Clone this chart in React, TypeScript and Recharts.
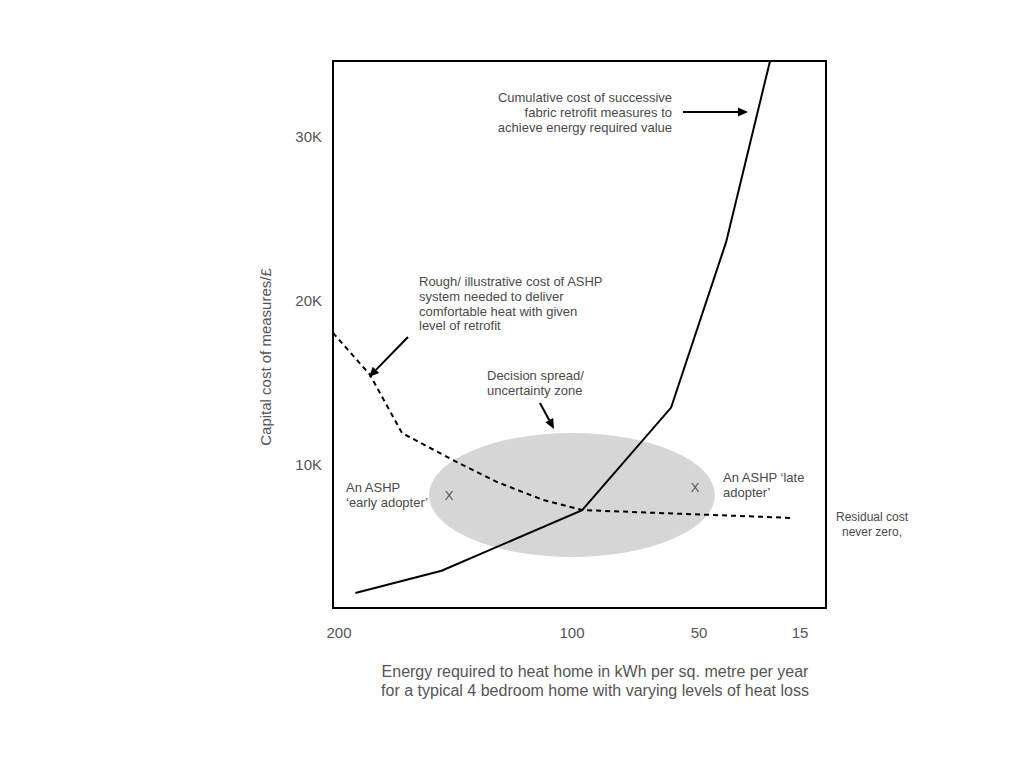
import React from 'react'
import { ComposedChart, Line, Scatter, XAxis, YAxis, ReferenceArea } from 'recharts'

// energy axis is schematic: tick stops and the spacing between them
const axisStops = [200, 100, 50, 15]
const axisGaps = [233, 127, 101]
const axisEnds = [202.6, 6]

const costTicks = [10000, 20000, 30000]
const costDomain = [1280, 34630]

// cumulative fabric retrofit cost (solid)
const fabricKwh = [193, 156, 96, 61, 40.6, 25.4]
const fabricCost = [2200, 3550, 7250, 13500, 23600, 34630]

// ASHP system cost (dashed)
const ashpKwh = [202.6, 186.7, 173, 151.1, 132.2, 112.4, 96, 17.8]
const ashpCost = [18050, 15490, 11950, 10300, 8960, 7870, 7250, 6770]

// decision spread / uncertainty zone bounds
const zoneKwh = [161.4, 44.5]
const zoneCost = [4390, 11950]

// early / late adopter markers
const adopterKwh = [152.8, 51.6]
const adopterCost = [8170, 8660]

const stopPos = axisStops.map((_, i) => axisGaps.slice(0, i).reduce((a, b) => a + b, 0))

function toPos(k: number) {
  let i = 0
  while (i < axisStops.length - 2 && k < axisStops[i + 1]) i++
  const k0 = axisStops[i]
  const k1 = axisStops[i + 1]
  return stopPos[i] + ((k0 - k) / (k0 - k1)) * (stopPos[i + 1] - stopPos[i])
}

const rows = (ks: number[], cs: number[]) => ks.map((k, i) => ({ pos: toPos(k), cost: cs[i] }))

const fabricData = rows(fabricKwh, fabricCost)
const ashpData = rows(ashpKwh, ashpCost)
const adopterData = rows(adopterKwh, adopterCost)
const xDomain = axisEnds.map(toPos)
const xTicks = axisStops.map(toPos)

const FONT = '"Liberation Sans", Arial, Helvetica, sans-serif'
const TEXT = '#4a4a4a'

function Arrow({ x1, y1, x2, y2 }: { x1: number; y1: number; x2: number; y2: number }) {
  const dx = x2 - x1
  const dy = y2 - y1
  const len = Math.sqrt(dx * dx + dy * dy)
  const ux = dx / len
  const uy = dy / len
  const hl = 10
  const hw = 4.5
  const bx = x2 - ux * hl
  const by = y2 - uy * hl
  return (
    <g>
      <line x1={x1} y1={y1} x2={bx} y2={by} stroke="#000" strokeWidth={2} />
      <polygon
        points={`${x2},${y2} ${bx - uy * hw},${by + ux * hw} ${bx + uy * hw},${by - ux * hw}`}
        fill="#000"
      />
    </g>
  )
}

function Lines({
  x,
  y,
  lines,
  anchor = 'start',
  size = 13,
}: {
  x: number
  y: number
  lines: string[]
  anchor?: string
  size?: number
}) {
  return (
    <text x={x} y={y} fontSize={size} fill={TEXT} textAnchor={anchor as any} fontFamily={FONT}>
      {lines.map((l, i) => (
        <tspan key={i} x={x} dy={i === 0 ? 0 : 14.8}>
          {l}
        </tspan>
      ))}
    </text>
  )
}

export default function App() {
  const tick = { fill: '#555', fontSize: 15, fontFamily: FONT }
  return (
    <div style={{ position: 'absolute', left: 0, top: 0, width: 1024, height: 768, background: '#fff' }}>
      <ComposedChart width={1024} height={768} margin={{ top: 61, right: 198, bottom: 120, left: 273 }}>
        <XAxis
          type="number"
          dataKey="pos"
          domain={xDomain}
          ticks={xTicks}
          tickFormatter={(v: number) => String(axisStops[xTicks.findIndex((t) => Math.abs(t - v) < 0.01)])}
          axisLine={false}
          tickLine={false}
          tickSize={6}
          tickMargin={13}
          height={40}
          tick={tick}
          allowDataOverflow
        />
        <YAxis
          type="number"
          dataKey="cost"
          domain={costDomain}
          ticks={costTicks}
          tickFormatter={(v: number) => `${v / 1000}K`}
          axisLine={false}
          tickLine={false}
          tickSize={6}
          tickMargin={5}
          width={60}
          tick={tick}
          allowDataOverflow
        />
        <ReferenceArea
          x1={toPos(zoneKwh[0])}
          x2={toPos(zoneKwh[1])}
          y1={zoneCost[0]}
          y2={zoneCost[1]}
          shape={(p: any) => (
            <ellipse
              cx={p.x + p.width / 2}
              cy={p.y + p.height / 2}
              rx={Math.abs(p.width) / 2}
              ry={Math.abs(p.height) / 2}
              fill="#d6d6d6"
            />
          )}
        />
        <Line
          data={ashpData}
          dataKey="cost"
          type="linear"
          stroke="#000"
          strokeWidth={2}
          strokeDasharray="5 4"
          dot={false}
          isAnimationActive={false}
        />
        <Line
          data={fabricData}
          dataKey="cost"
          type="linear"
          stroke="#000"
          strokeWidth={2}
          dot={false}
          isAnimationActive={false}
        />
        <Scatter
          data={adopterData}
          dataKey="cost"
          isAnimationActive={false}
          shape={(p: any) => (
            <text x={p.cx} y={p.cy + 5} textAnchor="middle" fontSize={13} fill="#555" fontFamily={FONT}>
              X
            </text>
          )}
        />
        <ReferenceArea
          x1={xDomain[0]}
          x2={xDomain[1]}
          y1={costDomain[0]}
          y2={costDomain[1]}
          fill="none"
          stroke="#000"
          strokeWidth={2}
          fillOpacity={0}
        />
      </ComposedChart>
      <svg width={1024} height={768} style={{ position: 'absolute', left: 0, top: 0, pointerEvents: 'none' }}>
        <Lines
          x={672}
          y={102}
          anchor="end"
          lines={['Cumulative cost of successive', 'fabric retrofit measures to', 'achieve energy required value']}
        />
        <Arrow x1={683} y1={112} x2={748} y2={112} />
        <Lines
          x={419}
          y={286}
          lines={['Rough/ illustrative cost of ASHP', 'system needed to deliver', 'comfortable heat with given', 'level of retrofit']}
        />
        <Arrow x1={408} y1={337} x2={369} y2={377} />
        <Lines x={487} y={380} lines={['Decision spread/', 'uncertainty zone']} />
        <Arrow x1={540} y1={403} x2={554} y2={429} />
        <Lines x={346} y={492} lines={['An ASHP', '\u2018early adopter\u2019']} />
        <Lines x={723} y={482} lines={['An ASHP \u2018late', 'adopter\u2019']} />
        <Lines x={872} y={521} anchor="middle" size={12} lines={['Residual cost', 'never zero,']} />
        <text x={595} y={677} fontSize={16} fill="#555" textAnchor="middle" fontFamily={FONT}>
          Energy required to heat home in kWh per sq. metre per year
        </text>
        <text x={595} y={696} fontSize={16} fill="#555" textAnchor="middle" fontFamily={FONT}>
          for a typical 4 bedroom home with varying levels of heat loss
        </text>
        <text
          x={0}
          y={0}
          transform="translate(271 357) rotate(-90)"
          fontSize={15}
          fill="#555"
          textAnchor="middle"
          fontFamily={FONT}
        >
          Capital cost of measures/£
        </text>
      </svg>
    </div>
  )
}
